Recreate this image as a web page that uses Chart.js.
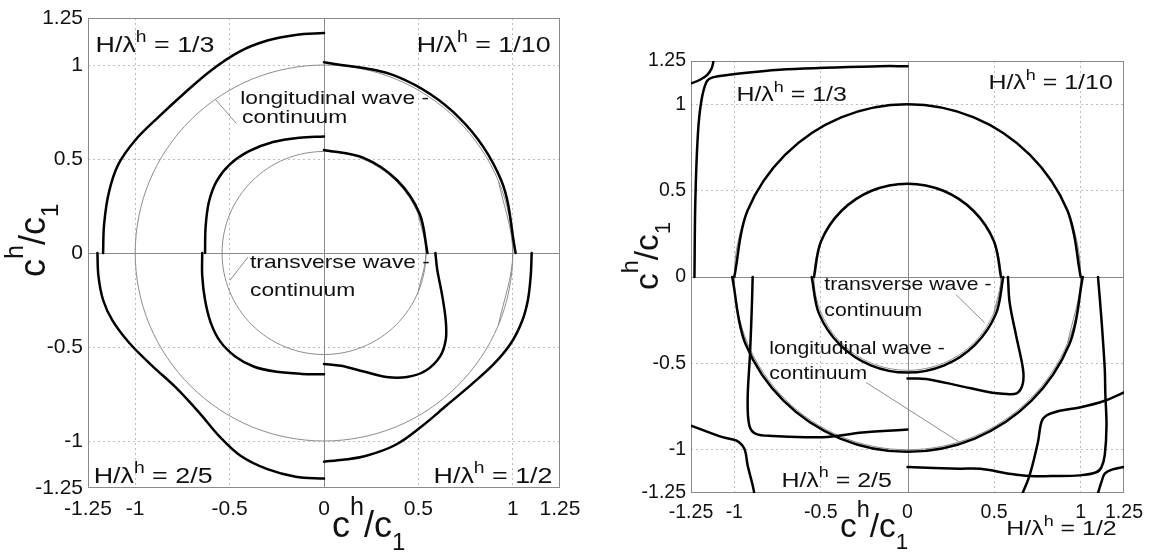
<!DOCTYPE html>
<html>
<head>
<meta charset="utf-8">
<script src="https://cdn.jsdelivr.net/npm/chart.js@4.4.1/dist/chart.umd.min.js"></script>
<style>
  body { margin: 0; background: #fff; }
  canvas { position: absolute; top: 0; }
  #left { left: 0; }
  #right { left: 580px; }
</style>
</head>
<body>
<canvas id="left" width="580" height="552"></canvas>
<canvas id="right" width="570" height="552"></canvas>
<script>
// tick positions, same on both axes of both panels
const tickValues = [-1.25, -1, -0.5, 0, 0.5, 1, 1.25];
const ratios = ['1/3', '1/10', '2/5', '1/2'];

// thin gray continua: longitudinal (r = 1) and transverse (r = 0.54)
const longCircle = [[0.924,-0.383],[1,0],[0.924,0.383],[0.707,0.707],[0.383,0.924],[0,1],[-0.383,0.924],[-0.707,0.707],[-0.924,0.383],[-1,0],[-0.924,-0.383],[-0.707,-0.707],[-0.383,-0.924],[0,-1],[0.383,-0.924],[0.707,-0.707],[0.924,-0.383],[1,0],[0.924,0.383]];
const transCircle = [[0.499,-0.207],[0.54,0],[0.499,0.207],[0.382,0.382],[0.207,0.499],[0,0.54],[-0.207,0.499],[-0.382,0.382],[-0.499,0.207],[-0.54,0],[-0.499,-0.207],[-0.382,-0.382],[-0.207,-0.499],[0,-0.54],[0.207,-0.499],[0.382,-0.382],[0.499,-0.207],[0.54,0],[0.499,0.207]];

// left figure
const left13Outer = [[-1.17,0],[-1.165,0.15],[-1.14,0.32],[-1.09,0.47],[-1.00,0.60],[-0.88,0.72],[-0.74,0.85],[-0.60,0.97],[-0.45,1.07],[-0.30,1.13],[-0.15,1.16],[0,1.17]];
const left13Inner = [[-0.63,0],[-0.627,0.14],[-0.61,0.27],[-0.57,0.38],[-0.50,0.47],[-0.40,0.54],[-0.27,0.59],[-0.13,0.613],[0,0.62]];
const left110Outer = [[1.015,0],[0.938,0.388],[0.718,0.718],[0.388,0.938],[0,1.015]];
const left110Inner = [[0.548,0],[0.506,0.21],[0.387,0.387],[0.21,0.506],[0,0.548]];
const left25Outer = [[-1.20,0],[-1.195,-0.12],[-1.17,-0.25],[-1.12,-0.36],[-1.03,-0.48],[-0.91,-0.60],[-0.78,-0.72],[-0.66,-0.85],[-0.55,-0.98],[-0.44,-1.08],[-0.30,-1.15],[-0.15,-1.19],[0,-1.20]];
const left25Inner = [[-0.645,0],[-0.645,-0.12],[-0.63,-0.25],[-0.60,-0.37],[-0.55,-0.47],[-0.47,-0.55],[-0.37,-0.605],[-0.25,-0.632],[-0.12,-0.643],[0,-0.645]];
const left12Outer = [[1.10,0],[1.095,-0.12],[1.08,-0.25],[1.05,-0.36],[0.99,-0.48],[0.90,-0.59],[0.78,-0.70],[0.65,-0.81],[0.52,-0.92],[0.38,-1.02],[0.22,-1.08],[0.10,-1.10],[0,-1.11]];
const left12Inner = [[0.59,0],[0.60,-0.09],[0.625,-0.22],[0.645,-0.36],[0.645,-0.46],[0.615,-0.55],[0.54,-0.625],[0.44,-0.66],[0.33,-0.66],[0.21,-0.63],[0.09,-0.60],[0,-0.59]];
const leftLongLeader = [[-0.577,0.819],[-0.465,0.69]];
const leftTransLeader = [[-0.402,-0.021],[-0.497,-0.144]];

// right figure
const right13Corner = [[-1.25,1.12],[-1.20,1.14],[-1.156,1.17],[-1.13,1.21],[-1.12,1.25]];
const right13Outer = [[-1.23,0],[-1.225,0.44],[-1.21,0.83],[-1.19,1.02],[-1.16,1.13],[-1.125,1.155],[-1.03,1.17],[-0.74,1.20],[-0.16,1.22],[0,1.22]];
const rightUpperLong = [[1,0],[0.924,0.383],[0.707,0.707],[0.383,0.924],[0,1],[-0.383,0.924],[-0.707,0.707],[-0.924,0.383],[-1,0]];
const rightUpperTrans = [[0.54,0],[0.499,0.207],[0.382,0.382],[0.207,0.499],[0,0.54],[-0.207,0.499],[-0.382,0.382],[-0.499,0.207],[-0.54,0]];
const rightLowerLong = [[-1.012,0],[-0.935,-0.388],[-0.716,-0.716],[-0.388,-0.935],[0,-1.012],[0.388,-0.935],[0.716,-0.716],[0.935,-0.388],[1.012,0]];
const rightLowerTrans = [[-0.553,0],[-0.511,-0.212],[-0.391,-0.391],[-0.212,-0.511],[0,-0.553],[0.212,-0.511],[0.391,-0.391],[0.511,-0.212],[0.553,0]];
const right25A = [[-0.894,0],[-0.898,-0.15],[-0.909,-0.44],[-0.923,-0.71],[-0.913,-0.86],[-0.875,-0.908],[-0.78,-0.92],[-0.49,-0.927],[-0.26,-0.90],[0,-0.883]];
const right25B = [[-1.25,-0.86],[-1.068,-0.927],[-0.99,-0.946],[-0.942,-0.994],[-0.923,-1.09],[-0.894,-1.205],[-0.885,-1.25]];
const right12C = [[0.58,0],[0.59,-0.15],[0.628,-0.343],[0.667,-0.534],[0.665,-0.62],[0.63,-0.673],[0.55,-0.675],[0.49,-0.67],[0.30,-0.63],[0.108,-0.59],[0,-0.588]];
const right12D = [[1.10,0],[1.12,-0.247],[1.139,-0.534],[1.142,-0.67],[1.149,-0.86],[1.139,-1.03],[1.12,-1.10],[1.09,-1.13],[0.994,-1.148],[0.85,-1.152],[0.705,-1.151],[0.60,-1.14],[0.42,-1.11],[0.30,-1.109],[0,-1.10]];
const right12E = [[0.665,-1.25],[0.705,-1.148],[0.753,-0.956],[0.773,-0.84],[0.80,-0.803],[0.879,-0.774],[0.994,-0.755],[1.139,-0.716],[1.25,-0.668]];
const right12G = [[1.10,-1.25],[1.12,-1.186],[1.139,-1.138],[1.18,-1.115],[1.25,-1.10]];
const rightTransLeader = [[0.281,-0.103],[0.445,-0.264]];
const rightLongLeader = [[-0.238,-0.611],[0.30,-0.956]];

const FONT = "'Liberation Sans', Arial, sans-serif";
Chart.defaults.font.family = FONT;

const thick = data => ({ data, showLine: true, borderColor: '#000', borderWidth: 2.5, pointRadius: 0, tension: 0.34, borderJoinStyle: 'round', borderCapStyle: 'round', order: 1 });
const thin = data => ({ data, showLine: true, borderColor: '#8c8c8c', borderWidth: 1, pointRadius: 0, tension: 0.34, order: 2 });
const leader = data => ({ data, showLine: true, borderColor: '#8c8c8c', borderWidth: 1, pointRadius: 0, tension: 0, order: 2 });

// text with superscript / subscript parts: [text, 1 = sup, -1 = sub]
function drawRich(ctx, parts, x, y, o) {
    const segs = parts.map(p => {
        const kind = p[1] || 0;
        const fs = kind === 0 ? o.size : o.size * (kind > 0 ? o.supScale : o.subScale);
        const dy = kind > 0 ? -o.up * o.size : (kind < 0 ? o.down * o.size : 0);
        ctx.font = fs + 'px ' + FONT;
        return { t: p[0], font: ctx.font, dy, w: ctx.measureText(p[0]).width };
    });
    const total = segs.reduce((s, g) => s + g.w, 0);
    ctx.save();
    ctx.translate(x, y);
    if (o.rot) ctx.rotate(o.rot);
    ctx.scale(o.sx || 1, 1);
    let cx = o.align === 'right' ? -total : 0;
    ctx.fillStyle = '#111';
    ctx.textBaseline = 'alphabetic';
    ctx.textAlign = 'left';
    segs.forEach(g => { ctx.font = g.font; ctx.fillText(g.t, cx, g.dy); cx += g.w; });
    ctx.restore();
}

function panelPlugin(cfg) {
    return {
        id: 'panel',
        beforeDatasetsDraw(chart) {
            const { ctx, chartArea: a, scales: { x, y } } = chart;
            const x0 = Math.round(x.getPixelForValue(0)) + 0.5;
            const y0 = Math.round(y.getPixelForValue(0)) + 0.5;
            ctx.save();
            ctx.strokeStyle = '#8a8a8a';
            ctx.lineWidth = 1;
            ctx.beginPath();
            ctx.moveTo(x0, a.top); ctx.lineTo(x0, a.bottom);
            ctx.moveTo(a.left, y0); ctx.lineTo(a.right, y0);
            ctx.stroke();
            ctx.strokeRect(Math.round(a.left) + 0.5, Math.round(a.top) + 0.5, Math.round(a.width) - 1, Math.round(a.height) - 1);
            ctx.restore();
        },
        afterDraw(chart) {
            const { ctx, scales: { x, y } } = chart;
            const k = cfg.k;
            cfg.labels.forEach(l => {
                drawRich(ctx, [['H/λ'], ['h', 1], [' = ' + l.q]], x.getPixelForValue(l.x), y.getPixelForValue(l.y),
                    { size: 22 * k, sx: 1.22, supScale: 0.72, up: 0.45, align: l.align });
            });
            cfg.notes.forEach(n => {
                drawRich(ctx, [[n.t]], x.getPixelForValue(n.x), y.getPixelForValue(n.y), { size: 19 * k, sx: 1.2 });
            });
            const title = [['c'], ['h', 1], ['/c'], ['1', -1]];
            const ts = { size: 36 * k, supScale: 0.7, up: 0.6, subScale: 0.67, down: 0.36 };
            drawRich(ctx, title, cfg.xTitle[0], cfg.xTitle[1], ts);
            drawRich(ctx, title, cfg.yTitle[0], cfg.yTitle[1], Object.assign({ rot: -Math.PI / 2 }, ts));
        }
    };
}

function axis(fitSize, isX, pad, fontSize) {
    return {
        type: 'linear',
        min: -1.25,
        max: 1.25,
        afterBuildTicks: s => { s.ticks = tickValues.map(v => ({ value: v })); },
        afterFit: s => {
            if (isX) { s.height = fitSize; s.paddingLeft = 0; s.paddingRight = 0; }
            else { s.width = fitSize; s.paddingTop = 0; s.paddingBottom = 0; }
        },
        grid: {
            color: c => (c.tick && c.tick.value !== 0 && Math.abs(c.tick.value) < 1.2) ? '#bdbdbd' : 'rgba(0,0,0,0)',
            lineWidth: 1,
            drawTicks: false
        },
        border: { display: false, dash: [2, 3] },
        ticks: {
            autoSkip: false, maxRotation: 0, minRotation: 0,
            color: '#111', padding: pad,
            font: { size: fontSize },
            callback: v => String(v)
        }
    };
}

function makeChart(id, datasets, geo, cfg) {
    return new Chart(document.getElementById(id), {
        type: 'scatter',
        data: { datasets },
        options: {
            responsive: false,
            animation: false,
            events: [],
            layout: { padding: { left: 0, top: geo.top, right: geo.right, bottom: 0 } },
            scales: {
                x: axis(geo.xh, true, geo.xpad, geo.font),
                y: axis(geo.yw, false, 5, geo.font)
            },
            plugins: { legend: { display: false }, tooltip: { enabled: false } }
        },
        plugins: [panelPlugin(cfg)]
    });
}

makeChart('left', [
    thin(longCircle), thin(transCircle), leader(leftLongLeader), leader(leftTransLeader),
    thick(left13Outer), thick(left13Inner), thick(left110Outer), thick(left110Inner),
    thick(left25Outer), thick(left25Inner), thick(left12Outer), thick(left12Inner)
], { top: 18, right: 20, xh: 64, yw: 88, xpad: 9, font: 21 }, {
    k: 1,
    labels: [
        { x: -1.21, y: 1.07, q: ratios[0], align: 'left' },
        { x: 1.20, y: 1.07, q: ratios[1], align: 'right' },
        { x: -1.22, y: -1.223, q: ratios[2], align: 'left' },
        { x: 1.21, y: -1.223, q: ratios[3], align: 'right' }
    ],
    notes: [
        { x: -0.444, y: 0.793, t: 'longitudinal wave -' },
        { x: -0.434, y: 0.69, t: 'continuum' },
        { x: -0.392, y: -0.08, t: 'transverse wave -' },
        { x: -0.392, y: -0.229, t: 'continuum' }
    ],
    xTitle: [332, 537],
    yTitle: [45, 277]
});

makeChart('right', [
    thin(longCircle), thin(transCircle), leader(rightTransLeader), leader(rightLongLeader),
    thick(right13Corner), thick(right13Outer), thick(rightUpperLong), thick(rightUpperTrans),
    thick(rightLowerLong), thick(rightLowerTrans), thick(right25A), thick(right25B),
    thick(right12C), thick(right12D), thick(right12E), thick(right12G)
], { top: 61, right: 26, xh: 59, yw: 111, xpad: 8, font: 19.5 }, {
    k: 0.93,
    labels: [
        { x: -0.988, y: 1.017, q: ratios[0], align: 'left' },
        { x: 1.185, y: 1.086, q: ratios[1], align: 'right' },
        { x: -0.728, y: -1.213, q: ratios[2], align: 'left' },
        { x: 1.208, y: -1.494, q: ratios[3], align: 'right' }
    ],
    notes: [
        { x: -0.48, y: -0.075, t: 'transverse wave -' },
        { x: -0.48, y: -0.224, t: 'continuum' },
        { x: -0.798, y: -0.448, t: 'longitudinal wave -' },
        { x: -0.798, y: -0.592, t: 'continuum' }
    ],
    xTitle: [260, 537],
    yTitle: [78, 290]
});
</script>
</body>
</html>
